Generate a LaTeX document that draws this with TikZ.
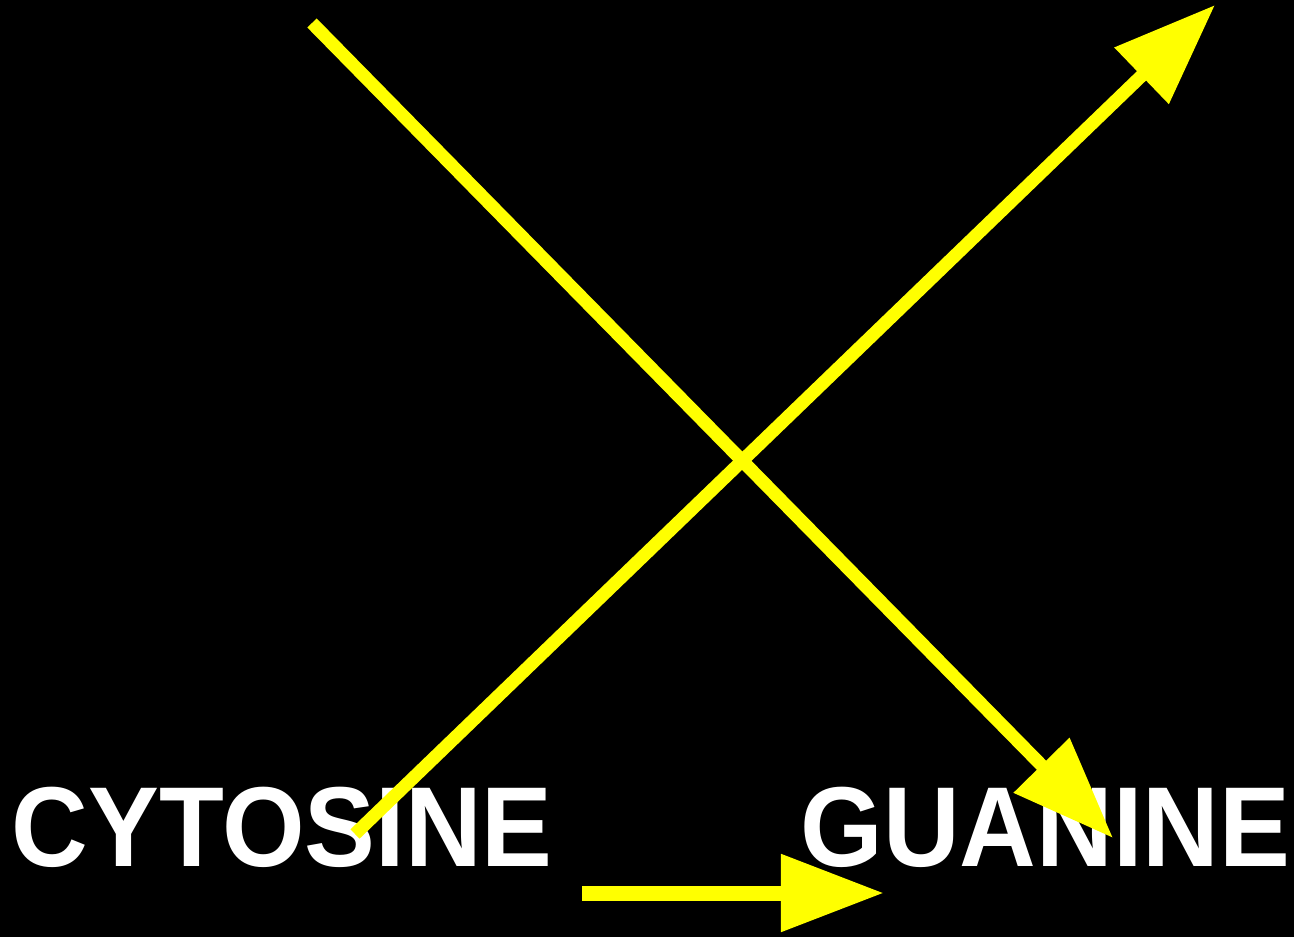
\documentclass[tikz,border=0pt]{standalone}
\usepackage{fontspec}
\setmainfont{Liberation Sans}
\usepackage{xcolor}
\usetikzlibrary{arrows.meta,positioning}
\definecolor{lemon}{HTML}{FFFF00}

\begin{document}
\begin{tikzpicture}[x=0.01cm,y=-0.01cm,
    basename/.style={font=\fontsize{30.5}{36}\selectfont\bfseries, text=white, inner sep=0pt, anchor=base west},
    strand/.style={draw=lemon, line width=0.13cm, -{Triangle[length=1.02cm,width=0.75cm]}}]
  \fill[black] (0,0) rectangle (1294,937);
  \useasboundingbox (0,0) rectangle (1294,937);
  % base names
  \node[basename] (cytosine) at (11,866) {\scalebox{0.99}[1.06]{CYTOSINE}};
  \node[basename] (guanine) at (800,866) {\scalebox{0.99}[1.06]{GUANINE}};
  % crossing strands
  \coordinate (topleft) at (312,23);
  \coordinate (tipdown) at (1113,838);
  \coordinate (startup) at (355,834);
  \coordinate (tipup) at (1215,5);
  \draw[strand] (topleft) -- (tipdown);
  \draw[strand] (startup) -- (tipup);
  % pairing arrow
  \coordinate (pairfrom) at (582,893);
  \coordinate (pairto) at (884,893);
  \draw[strand, line width=0.15cm, -{Triangle[length=1.03cm,width=0.74cm]}] (pairfrom) -- (pairto);
\end{tikzpicture}
\end{document}
